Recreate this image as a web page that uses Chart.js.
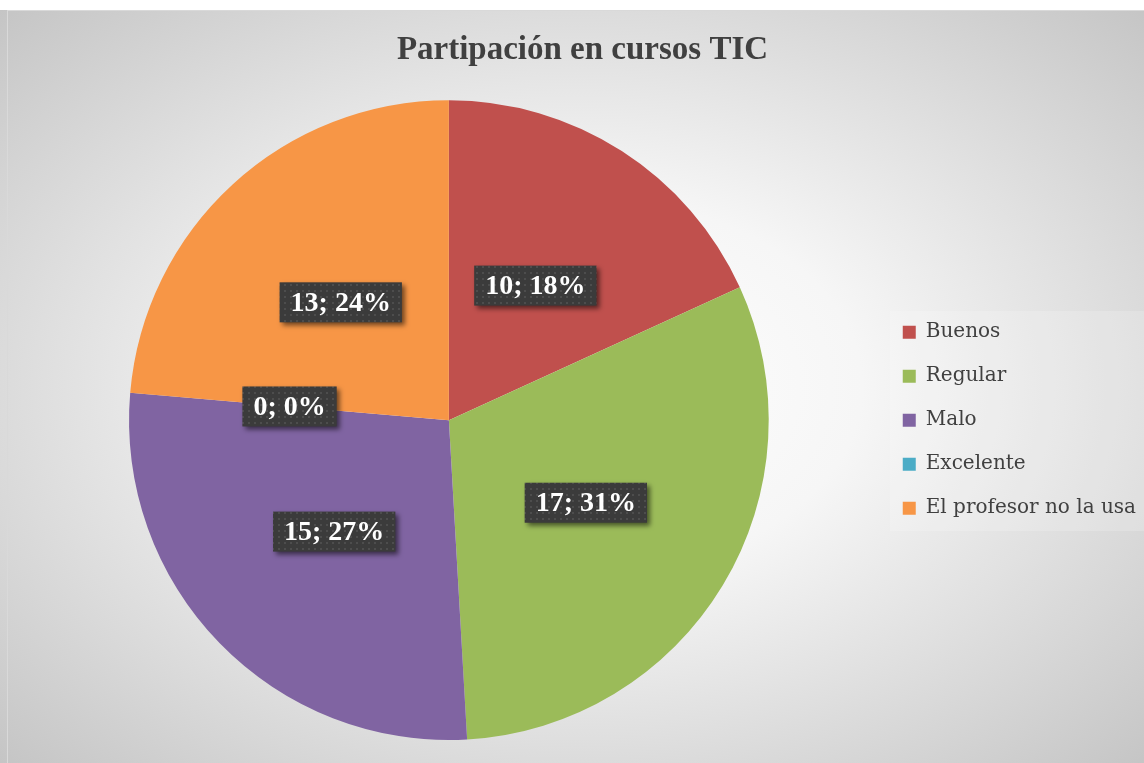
<!DOCTYPE html>
<html>
<head>
<meta charset="utf-8">
<title>Partipación en cursos TIC</title>
<script src="https://cdn.jsdelivr.net/npm/chart.js@4.4.1/dist/chart.umd.min.js"></script>
<style>
  html, body { margin: 0; padding: 0; background: #fff; }
  #wrap { width: 1144px; height: 763px; }
</style>
</head>
<body>
<div id="wrap"><canvas id="pie" width="1144" height="763"></canvas></div>
<script>
var categories = ["Buenos", "Regular", "Malo", "Excelente", "El profesor no la usa"];
var values = [10, 17, 15, 0, 13];
var colors = ["#c0504d", "#9bbb59", "#8064a2", "#4bacc6", "#f79646"];
var titleText = "Partipación en cursos TIC";

var serif = "'Liberation Serif', 'DejaVu Serif', serif";
var legendFont = "'DejaVu Serif', serif";

// grey radial backdrop like the office chart style
var backdrop = {
  id: 'backdrop',
  beforeDraw: function(chart) {
    var ctx = chart.ctx;
    ctx.save();
    ctx.fillStyle = '#ffffff';
    ctx.fillRect(0, 0, chart.width, chart.height);
    var x0 = 7, y0 = 10, w = chart.width - x0, h = chart.height - y0;
    ctx.translate(x0 + w / 2, y0 + h / 2);
    ctx.scale(w / h, 1);
    var g = ctx.createRadialGradient(0, 0, 0, 0, 0, h * 0.72);
    g.addColorStop(0, '#ffffff');
    g.addColorStop(0.35, '#f6f6f6');
    g.addColorStop(1, '#c4c4c4');
    ctx.fillStyle = g;
    ctx.fillRect(-h / 2 - 1000, -h / 2, 4000, h);
    ctx.restore();
    ctx.save();
    ctx.strokeStyle = '#d9d9d9';
    ctx.lineWidth = 1;
    ctx.strokeRect(x0 + 0.5, y0 + 0.5, w, h);
    // soft panel behind legend
    var lg = chart.legend;
    ctx.fillStyle = 'rgba(255,255,255,0.18)';
    ctx.fillRect(lg.left + 11, 311, chart.width - lg.left - 11, 220);
    ctx.restore();
  }
};

var pattern = (function() {
  var c = document.createElement('canvas');
  c.width = 6; c.height = 6;
  var x = c.getContext('2d');
  x.fillStyle = '#3b3b3b';
  x.fillRect(0, 0, 6, 6);
  x.fillStyle = '#4d4d4d';
  x.fillRect(2, 2, 2, 2);
  return x.createPattern(c, 'repeat');
})();

var valueLabels = {
  id: 'valueLabels',
  afterDatasetsDraw: function(chart) {
    var ctx = chart.ctx;
    var data = chart.data.datasets[0].data;
    var total = data.reduce(function(a, b) { return a + b; }, 0);
    var arcs = chart.getDatasetMeta(0).data;
    ctx.save();
    ctx.font = 'bold 28px ' + serif;
    ctx.textAlign = 'center';
    ctx.textBaseline = 'middle';
    arcs.forEach(function(arc, i) {
      var p = arc.tooltipPosition(false);
      var txt = data[i] + '; ' + Math.round(data[i] / total * 100) + '%';
      var tw = ctx.measureText(txt).width;
      var bw = tw + 22, bh = 40;
      ctx.save();
      ctx.shadowColor = 'rgba(0,0,0,0.55)';
      ctx.shadowBlur = 5;
      ctx.shadowOffsetX = 3;
      ctx.shadowOffsetY = 3;
      ctx.fillStyle = pattern;
      ctx.fillRect(p.x - bw / 2, p.y - bh / 2, bw, bh);
      ctx.restore();
      ctx.fillStyle = '#ffffff';
      ctx.fillText(txt, p.x, p.y + 1);
    });
    ctx.restore();
  }
};

new Chart(document.getElementById('pie'), {
  type: 'pie',
  data: {
    labels: categories,
    datasets: [{
      data: values,
      backgroundColor: colors,
      borderWidth: 0
    }]
  },
  options: {
    responsive: false,
    animation: false,
    layout: { padding: { left: 19, right: -2, top: 10, bottom: 23 } },
    plugins: {
      tooltip: { enabled: false },
      title: {
        display: true,
        text: titleText,
        color: '#404040',
        font: { family: serif, size: 33, weight: 'bold', lineHeight: 1.1 },
        padding: { top: 22, bottom: 32 }
      },
      legend: {
        position: 'right',
        fullSize: false,
        labels: {
          color: '#404040',
          font: { family: legendFont, size: 20 },
          boxWidth: 13,
          boxHeight: 13,
          padding: 24
        }
      }
    }
  },
  plugins: [backdrop, valueLabels]
});
</script>
</body>
</html>
